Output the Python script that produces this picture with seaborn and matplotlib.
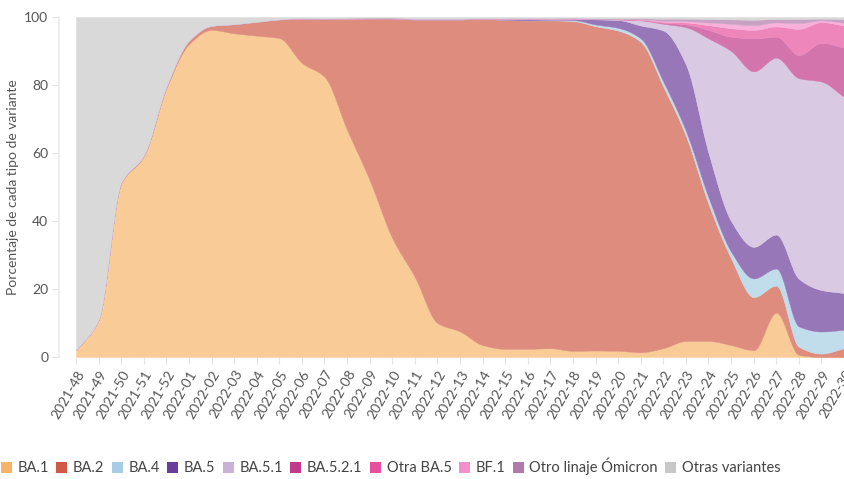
# Gráfico de áreas apiladas: porcentaje de cada variante por semana

import numpy as np
import pandas as pd
import seaborn as sns
import matplotlib.pyplot as plt
from matplotlib.patches import Patch
from matplotlib.colors import to_rgb

# Semanas epidemiológicas (eje x)
semanas = ['2021-48', '2021-49', '2021-50', '2021-51', '2021-52',
           '2022-01', '2022-02', '2022-03', '2022-04', '2022-05', '2022-06',
           '2022-07', '2022-08', '2022-09', '2022-10', '2022-11', '2022-12',
           '2022-13', '2022-14', '2022-15', '2022-16', '2022-17', '2022-18',
           '2022-19', '2022-20', '2022-21', '2022-22', '2022-23', '2022-24',
           '2022-25', '2022-26', '2022-27', '2022-28', '2022-29', '2022-30']

# Porcentajes
ba1 = [2, 11, 51, 59, 79, 92, 96.2, 95.2, 94.5, 93.8, 86.5, 82.4, 66.8,
       52, 35, 23.5, 10, 7.5, 3.5, 2.4, 2.4, 2.6, 1.8, 1.9, 1.8, 1.4, 2.6,
       4.7, 4.7, 3.5, 2.0, 13.0, 0.6, 0.0, 0.0]
ba2 = [0, 0, 0.3, 0.3, 0.5, 1, 1.2, 2.7, 4.1, 5.5, 13, 17, 32.7, 47.6, 64.6,
       75.8, 89.3, 91.8, 95.9, 96.8, 96.6, 96.4, 97.0, 95.4, 94.2, 91.3, 76.9,
       60.3, 40.3, 25.5, 15.6, 8.0, 2.4, 1.0, 2.6]
ba4 = [0, 0, 0, 0, 0, 0, 0, 0, 0, 0, 0, 0, 0, 0, 0, 0, 0, 0, 0, 0, 0, 0.2,
       0.3, 0.5, 0.8, 1.0, 1.5, 1.5, 2.0, 2.0, 5.5, 5.0, 6.0, 6.5, 5.4]
ba5 = [0, 0, 0, 0, 0, 0, 0, 0, 0, 0, 0, 0, 0, 0, 0, 0, 0, 0, 0.1, 0.3, 0.5,
       0.3, 0.4, 1.5, 2.3, 3.8, 15.0, 19.5, 13.0, 9.0, 9.3, 10.0, 14.0, 12.2,
       10.8]
ba51 = [0, 0, 0, 0, 0, 0, 0, 0, 0, 0, 0, 0, 0, 0, 0, 0, 0, 0, 0, 0, 0, 0,
        0.05, 0.1, 0.2, 1.5, 2.0, 11.0, 33.7, 50.0, 51.6, 52.0, 59.0, 61.3,
        57.7]
ba521 = [0, 0, 0, 0, 0, 0, 0, 0, 0, 0, 0, 0, 0, 0, 0, 0, 0, 0, 0, 0, 0, 0,
         0, 0, 0, 0.1, 0.3, 0.8, 2.5, 4.2, 9.7, 6.2, 6.8, 11.4, 14.5]
otra_ba5 = [0, 0, 0, 0, 0, 0, 0, 0, 0, 0, 0, 0, 0, 0, 0, 0, 0, 0, 0, 0, 0,
            0, 0, 0, 0.05, 0.1, 0.3, 0.6, 1.4, 2.5, 2.5, 3.0, 7.7, 6.1, 6.5]
bf1 = [0, 0, 0, 0, 0, 0, 0, 0, 0, 0, 0, 0, 0, 0, 0, 0, 0, 0, 0, 0, 0, 0, 0,
       0, 0.05, 0.1, 0.3, 0.4, 0.8, 1.3, 1.4, 1.2, 1.7, 0.5, 0.8]
otro_linaje = [0, 0, 0, 0, 0, 0, 0, 0, 0, 0, 0.2, 0.2, 0.2, 0.2, 0.2, 0.2,
               0.2, 0.2, 0.2, 0.2, 0.2, 0.2, 0.2, 0.2, 0.2, 0.3, 0.6, 0.7,
               1.0, 1.3, 1.6, 1.0, 1.2, 0.5, 1.1]
otras = [98, 89, 48.7, 40.7, 20.5, 7, 2.6, 2.1, 1.4, 0.7, 0.3, 0.4, 0.3, 0.2,
         0.2, 0.5, 0.5, 0.5, 0.3, 0.3, 0.3, 0.3, 0.25, 0.4, 0.4, 0.4, 0.5,
         0.5, 0.6, 0.7, 0.8, 0.6, 0.6, 0.5, 0.6]

variantes = ['BA.1', 'BA.2', 'BA.4', 'BA.5', 'BA.5.1', 'BA.5.2.1',
             'Otra BA.5', 'BF.1', 'Otro linaje Ómicron', 'Otras variantes']
colores = ['#f5b46a', '#d05a45', '#a6cde3', '#6a3d9a', '#cab2d6', '#c0398a',
           '#e7509e', '#f58fcb', '#b07aaa', '#c8c8c8']

df = pd.DataFrame(dict(zip(variantes, [ba1, ba2, ba4, ba5, ba51, ba521,
                                       otra_ba5, bf1, otro_linaje, otras])),
                  index=semanas)

# Tema de seaborn y fuente
sns.set_theme(style='white')
plt.rcParams['font.family'] = ['Lato', 'DejaVu Sans']


def curva_monotona(x, y, xs):
    # interpolación cúbica monótona (como curveMonotoneX) para suavizar
    h = np.diff(x)
    d = np.diff(y) / h
    m = np.zeros_like(y)
    prod = d[:-1] * d[1:]
    suma = d[:-1] + d[1:]
    with np.errstate(divide='ignore', invalid='ignore'):
        m[1:-1] = np.where(prod > 0, 2 * prod / suma, 0)
    m[0] = d[0]
    m[-1] = d[-1]
    i = np.clip(np.searchsorted(x, xs, side='right') - 1, 0, len(x) - 2)
    t = (xs - x[i]) / h[i]
    h00 = 2 * t**3 - 3 * t**2 + 1
    h10 = t**3 - 2 * t**2 + t
    h01 = -2 * t**3 + 3 * t**2
    h11 = t**3 - t**2
    return h00 * y[i] + h10 * h[i] * m[i] + h01 * y[i + 1] + h11 * h[i] * m[i + 1]


# color de relleno = color con transparencia 0.7 sobre blanco
def aclarar(c, a=0.7):
    r = np.array(to_rgb(c))
    return tuple(r * a + (1 - a))


fig = plt.figure(figsize=(8.45, 4.79), dpi=100)
ax = fig.add_axes([76 / 845, 1 - 357 / 479, 768 / 845, 340 / 479])

x = np.arange(len(semanas), dtype=float)
xs = np.linspace(0, len(semanas) - 1, 1200)
acum = df.cumsum(axis=1)

abajo = np.zeros_like(xs)
for var, color in zip(variantes, colores):
    arriba = curva_monotona(x, acum[var].values.astype(float), xs)
    ax.fill_between(xs, abajo, arriba, color=aclarar(color), linewidth=0.3,
                    edgecolor=aclarar(color))
    abajo = arriba

# Ejes
ax.set_xlim(0, len(semanas) - 1)
ax.set_ylim(0, 100)
ax.set_xticks(x)
ax.set_xticklabels(semanas, rotation=60, ha='right', rotation_mode='anchor')
ax.set_yticks([0, 20, 40, 60, 80, 100])
ax.tick_params(axis='both', bottom=True, left=True, length=5, width=0.8,
               color='#e3e3e3', labelcolor='#555555', labelsize=10, pad=3)
ax.set_ylabel('Porcentaje de cada tipo de variante', color='#555555',
              fontsize=10)

sns.despine(ax=ax, top=True, right=True)
ax.spines['left'].set_position(('outward', 12))
ax.spines['left'].set_color('#eeeeee')
ax.spines['bottom'].set_visible(False)

# Leyenda en la parte inferior
manejadores = [Patch(facecolor=c, edgecolor='none') for c in colores]
fig.legend(manejadores, variantes, loc='center left', ncol=10,
           bbox_to_anchor=(-0.006, 0.026), frameon=False, fontsize=10.5,
           handlelength=0.75, handleheight=0.75, handletextpad=0.4,
           columnspacing=0.5, labelcolor='#444444', borderaxespad=0)

plt.savefig('out.png', dpi=100)
